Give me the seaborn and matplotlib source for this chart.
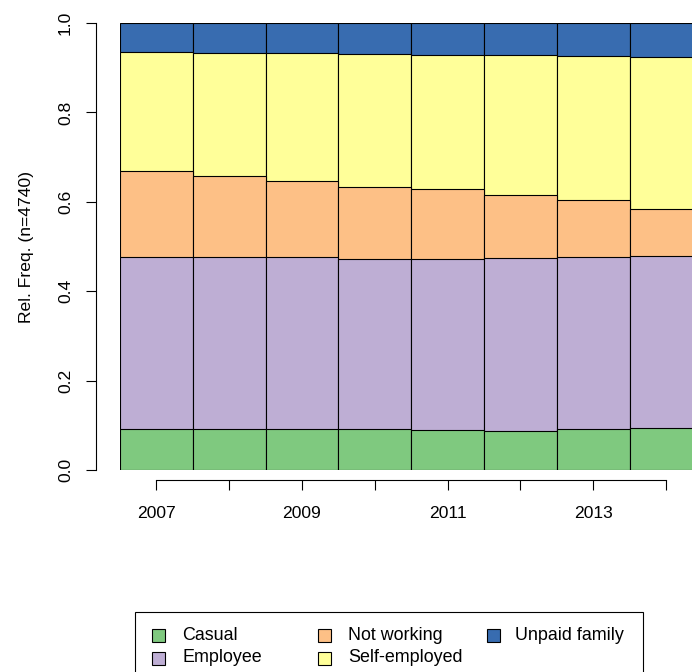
import numpy as np
import pandas as pd
import matplotlib
matplotlib.use("Agg")
import matplotlib.pyplot as plt
import seaborn as sns
from matplotlib.patches import Rectangle

# ---------------- data ----------------
years = [2007, 2008, 2009, 2010, 2011, 2012, 2013, 2014]
categories = ["Casual", "Employee", "Not working", "Self-employed", "Unpaid family"]
casual = [0.091, 0.0925, 0.0925, 0.091, 0.0895, 0.087, 0.0925, 0.0947]
employee = [0.385, 0.3835, 0.3845, 0.382, 0.3815, 0.388, 0.3845, 0.3843]
not_working = [0.192, 0.182, 0.169, 0.159, 0.157, 0.140, 0.127, 0.105]
self_employed = [0.268, 0.276, 0.287, 0.299, 0.300, 0.313, 0.323, 0.339]
unpaid_family = [0.064, 0.066, 0.067, 0.069, 0.072, 0.072, 0.073, 0.077]
colors = ["#7FC97F", "#BEAED4", "#FDC086", "#FFFF99", "#386CB0"]
yticks = [0.0, 0.2, 0.4, 0.6, 0.8, 1.0]
ytick_labels = ["0.0", "0.2", "0.4", "0.6", "0.8", "1.0"]
xtick_labels = ["2007", "", "2009", "", "2011", "", "2013", ""]
ylabel = "Rel. Freq. (n=4740)"

# ---------------- style ----------------
sns.set_style("white")
plt.rcParams["font.family"] = ["Liberation Sans", "DejaVu Sans"]
FS = 12.6
LFS = 12.9

W, H = 692, 672
fig = plt.figure(figsize=(W / 100, H / 100), dpi=100)
ax_left, ax_right, ax_top, ax_bottom = 120, 692, 23, 470
ax = fig.add_axes([ax_left / W, (H - ax_bottom) / H,
                   (ax_right - ax_left) / W, (ax_bottom - ax_top) / H])

series = np.array([casual, employee, not_working, self_employed, unpaid_family])
series = series / series.sum(axis=0)
cum = np.cumsum(series, axis=0)
df = pd.DataFrame({"year": years})
for i, c in enumerate(categories):
    df[c] = cum[i]

# draw cumulative bars from the top level downwards so they stack visually
for i in range(len(categories) - 1, -1, -1):
    sns.barplot(data=df, x="year", y=categories[i], native_scale=True,
                width=1.0, color=colors[i], saturation=1, errorbar=None,
                edgecolor="black", linewidth=0.8, ax=ax)

px_per_year = 72.8
ax.set_xlim(2006.5, 2006.5 + (ax_right - ax_left) / px_per_year)
ax.set_ylim(0, 1)

# R-style detached axes
for s in ["top", "right"]:
    ax.spines[s].set_visible(False)
ax.spines["left"].set_position(("outward", 24 * 0.72))
ax.spines["bottom"].set_position(("outward", 10 * 0.72))
ax.spines["left"].set_bounds(0, 1)
ax.spines["bottom"].set_bounds(years[0], years[-1])
for s in ["left", "bottom"]:
    ax.spines[s].set_color("black")
    ax.spines[s].set_linewidth(0.8)

ax.set_xticks(years)
ax.set_xticklabels(xtick_labels)
ax.set_yticks(yticks)
ax.set_yticklabels(ytick_labels, rotation=90, va="center")
ax.tick_params(axis="both", direction="out", length=7.5, width=0.8,
               color="black", labelsize=FS, labelcolor="black",
               left=True, bottom=True)
ax.tick_params(axis="x", pad=11)
ax.tick_params(axis="y", pad=9)

ax.set_xlabel("")
ax.set_ylabel(ylabel, fontsize=FS, color="black")
ax.yaxis.label.set_verticalalignment("center")
ax.yaxis.set_label_coords((27 - ax_left) / (ax_right - ax_left), 0.5)

# ---------------- legend (R-style, fixed columns) ----------------
def fx(px):
    return px / W

def fy(py):
    return 1 - py / H

frame = Rectangle((fx(135), fy(685)), fx(643) - fx(135), fy(612) - fy(685),
                  transform=fig.transFigure, facecolor="white",
                  edgecolor="black", linewidth=0.8, clip_on=False)
fig.add_artist(frame)

col_sq = [152, 318, 487]
col_txt = [182, 348, 515]
row_y = [635, 658]
sq = 13
positions = [(0, 0), (0, 1), (1, 0), (1, 1), (2, 0)]
for (c, r), label, color in zip(positions, categories, colors):
    x0 = col_sq[c]
    yc = row_y[r]
    fig.add_artist(Rectangle((fx(x0), fy(yc + sq / 2)), sq / W, sq / H,
                             transform=fig.transFigure, facecolor=color,
                             edgecolor="black", linewidth=0.8, clip_on=False))
    fig.text(fx(col_txt[c]), fy(yc), label, fontsize=LFS, color="black",
             ha="left", va="center")

fig.savefig("out.png", dpi=100)
